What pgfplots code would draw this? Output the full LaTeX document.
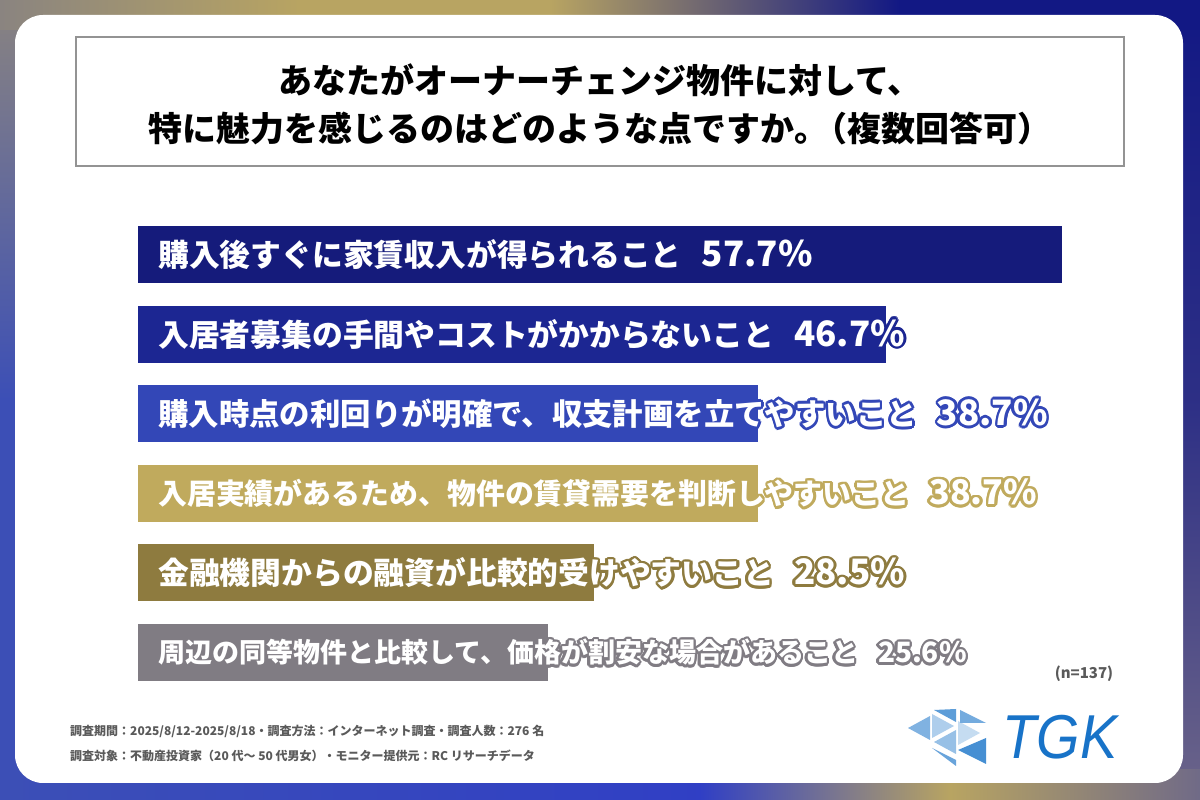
\documentclass[border=0pt]{standalone}
\usepackage{pgfplots}
\pgfplotsset{compat=1.18}
\usepackage{fontspec}
\setmainfont{Noto Sans CJK JP}
\newfontfamily\logofont{Liberation Sans}
\definecolor{c1}{HTML}{151B7B}
\definecolor{c2}{HTML}{1C2692}
\definecolor{c3}{HTML}{3347B7}
\definecolor{c4}{HTML}{C0AA5D}
\definecolor{c5}{HTML}{8E7B3F}
\definecolor{c6}{HTML}{807C83}
\definecolor{bgGrey}{HTML}{8A8480}
\definecolor{bgGold}{HTML}{B8A462}
\definecolor{bgNavy}{HTML}{121884}
\definecolor{bgBlue}{HTML}{3C4FB6}
\definecolor{bgPurp}{HTML}{6C6589}
\definecolor{foot}{HTML}{5A5A5A}
\definecolor{logo}{HTML}{1873C8}
\newcommand{\olab}[3]{%
  \foreach \a in {0,22.5,...,337.5}{\node[anchor=west,text=#2,inner sep=0pt] at ([xshift=20pt,shift={(\a:2.6pt)}]#1) {#3};}
  \node[anchor=west,text=white,inner sep=0pt] at ([xshift=20pt]#1) {#3};
}
% #1 label size, #2 number size, #3 label, #4 number
\newcommand{\lab}[4]{\bfseries\fontsize{#1}{#1}\selectfont #3\hspace{20pt}{\fontsize{#2}{#2}\selectfont #4}}
\begin{document}
\begin{tikzpicture}[x=1pt,y=1pt]
\useasboundingbox (0,0) rectangle (1200,800);
% background frame
\shade[bottom color=bgBlue, top color=bgBlue] (0,0) rectangle (30,400);
\shade[bottom color=bgBlue, top color=bgGrey] (0,400) rectangle (30,800);
\shade[top color=bgNavy, bottom color=bgNavy!70!bgPurp] (1170,400) rectangle (1200,800);
\shade[top color=bgNavy!70!bgPurp, bottom color=bgPurp] (1170,0) rectangle (1200,400);
\shade[left color=bgGrey, right color=bgGold] (0,770) rectangle (300,800);
\fill[bgGold] (300,770) rectangle (550,800);
\shade[left color=bgGold, right color=bgNavy] (550,770) rectangle (900,800);
\fill[bgNavy] (900,770) rectangle (1200,800);
\shade[left color=bgBlue, right color=bgBlue!80!blue] (0,0) rectangle (700,30);
\shade[left color=bgBlue!80!blue, right color=bgGold] (700,0) rectangle (950,30);
\shade[left color=bgGold, right color=bgPurp!80!gray] (950,0) rectangle (1200,30);
\fill[white, rounded corners=28pt] (15,17) rectangle (1183,785);
% title
\draw[gray!85, line width=1.6pt] (76,634) rectangle (1124,763);
\node[font=\fontsize{34}{48}\selectfont\bfseries, align=center, inner sep=0pt] at (600,696) {あなたがオーナーチェンジ物件に対して、\\特に魅力を感じるのはどのような点ですか。\hspace{-15pt}（複数回答可）};
\begin{axis}[at={(138pt,107.7pt)}, anchor=south west, scale only axis,
  width=924pt, height=477.6pt, xmin=0, xmax=57.7, ymin=-0.5, ymax=5.5,
  y dir=reverse, hide axis, xbar, bar width=57pt, bar shift=0pt, clip=false]
\addplot[draw=none, fill=c1] coordinates {(57.7,0)};
\addplot[draw=none, fill=c2] coordinates {(46.7,1)};
\addplot[draw=none, fill=c3] coordinates {(38.7,2)};
\addplot[draw=none, fill=c4] coordinates {(38.7,3)};
\addplot[draw=none, fill=c5] coordinates {(28.5,4)};
\addplot[draw=none, fill=c6] coordinates {(25.6,5)};
\coordinate (L0) at (axis cs:0,0);
\coordinate (L1) at (axis cs:0,1);
\coordinate (L2) at (axis cs:0,2);
\coordinate (L3) at (axis cs:0,3);
\coordinate (L4) at (axis cs:0,4);
\coordinate (L5) at (axis cs:0,5);
\end{axis}
\olab{L0}{c1}{\lab{30.8}{35}{購入後すぐに家賃収入が得られること}{57.7\%}}
\olab{L1}{c2}{\lab{30.8}{35}{入居者募集の手間やコストがかからないこと}{46.7\%}}
\olab{L2}{c3}{\lab{30.4}{35}{購入時点の利回りが明確で、収支計画を立てやすいこと}{38.7\%}}
\olab{L3}{c4}{\lab{28.9}{34}{入居実績があるため、物件の賃貸需要を判断しやすいこと}{38.7\%}}
\olab{L4}{c5}{\lab{30.8}{35}{金融機関からの融資が比較的受けやすいこと}{28.5\%}}
\olab{L5}{c6}{\lab{27}{28}{周辺の同等物件と比較して、価格が割安な場合があること}{25.6\%}}
% n
\node[text=foot, font=\bfseries\fontsize{15}{15}\selectfont] at (1084,126) {(n=137)};
% footer
\node[anchor=west, text=foot, font=\bfseries\fontsize{12}{12}\selectfont, inner sep=0pt] at (70,69) {調査期間：2025/8/12-2025/8/18・調査方法：インターネット調査・調査人数：276 名};
\node[anchor=west, text=foot, font=\bfseries\fontsize{12}{12}\selectfont, inner sep=0pt] at (70,44) {調査対象：不動産投資家（20 代〜 50 代男女）・モニター提供元：RC リサーチデータ};
% logo
\node[text=logo, font=\logofont\itshape\fontsize{62}{62}\selectfont, xscale=0.9, inner sep=0pt] at (1060,63) {TGK};
\fill[logo!55!white] (908,72) -- (930,84) -- (930,60) -- cycle;
\fill[logo!35!white] (932,86) -- (954,74) -- (932,62) -- cycle;
\fill[logo!70!white] (934,90) -- (956,78) -- (956,91) -- cycle;
\fill[logo!25!white] (958,79) -- (980,67) -- (958,55) -- cycle;
\fill[logo!60!white] (960,90) -- (986,77) -- (960,77) -- cycle;
\fill[logo!45!white] (934,58) -- (956,46) -- (956,70) -- cycle;
\fill[logo!80!white] (958,50) -- (986,36) -- (986,62) -- (958,50) -- cycle;
\fill[logo!65!white] (932,52) -- (956,40) -- (956,34) -- cycle;
\end{tikzpicture}
\end{document}
